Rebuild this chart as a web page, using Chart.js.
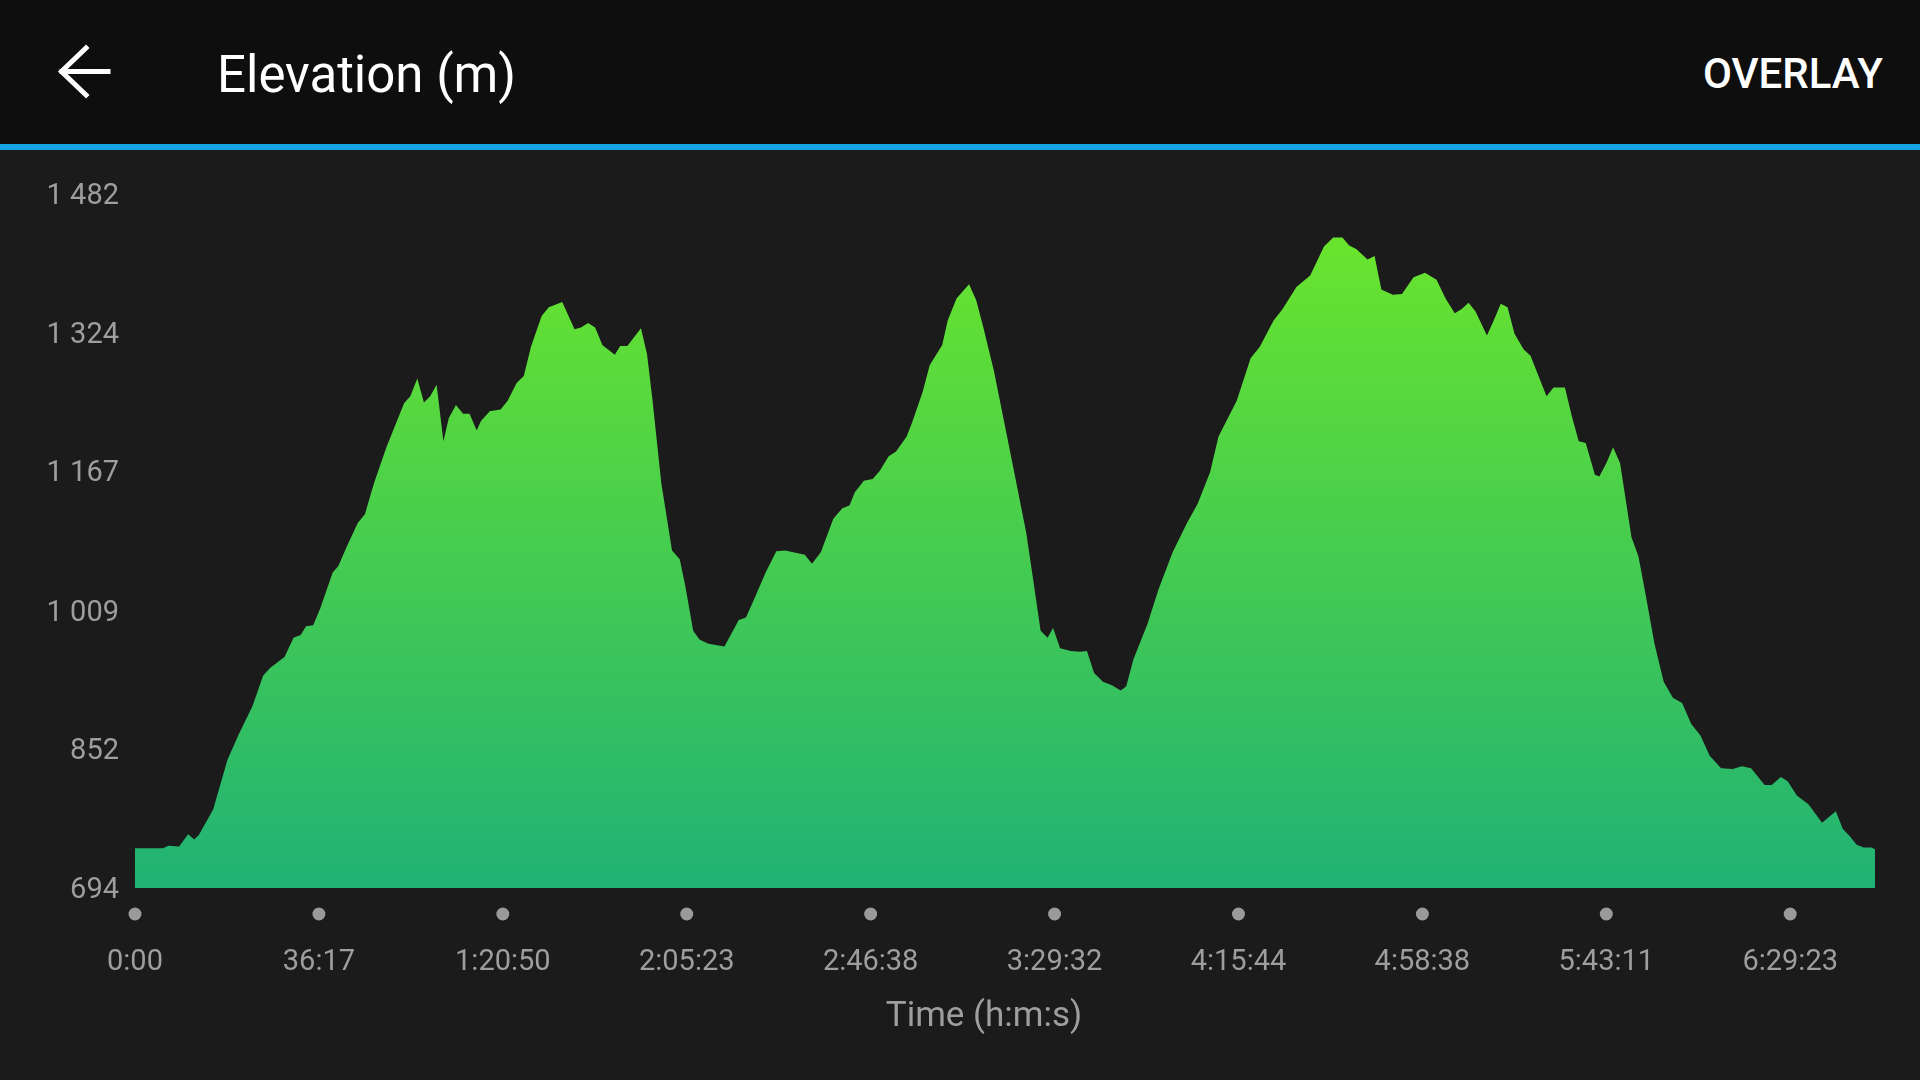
<!DOCTYPE html>
<html>
<head>
<meta charset="utf-8">
<script src="https://cdn.jsdelivr.net/npm/chart.js@4.4.1/dist/chart.umd.min.js"></script>
<style>
    html, body { margin: 0; padding: 0; }
    body { width: 1920px; height: 1080px; background: #1b1b1b; position: relative; overflow: hidden; font-family: Roboto, "Noto Sans", sans-serif; }
    #header { position: absolute; left: 0; top: 0; width: 1920px; height: 144px; background: #0e0e0e; }
    #bar { position: absolute; left: 0; top: 144px; width: 1920px; height: 6px; background: #16a4e6; }
    #back { position: absolute; left: 0; top: 0; }
    #title { position: absolute; left: 217px; top: 49px; font-size: 51px; line-height: 51px; color: #fff; white-space: nowrap; }
    #overlay { position: absolute; right: 37px; top: 53px; font-size: 42px; line-height: 42px; font-weight: 500; color: #fff; }
    #xTitle { position: absolute; left: 784px; width: 400px; top: 997px; text-align: center; font-size: 35px; line-height: 35px; color: #9e9e9e; }
    #chart { position: absolute; left: 0; top: 150px; }
</style>
</head>
<body>
<div id="header"></div>
<div id="bar"></div>
<svg id="back" width="140" height="144">
    <path d="M108 71.5 H62 M86 48 L61.5 71.5 L86 95" stroke="#fff" stroke-width="5" fill="none" stroke-linecap="square"/>
</svg>
<div id="title">Elevation (m)</div>
<div id="overlay">OVERLAY</div>
<canvas id="chart" width="1920" height="930"></canvas>
<div id="xTitle">Time (h:m:s)</div>

<script>
// ====== DATA ======
// x runs in tick intervals (one interval between two time labels)
const distance = [
    0, 0.153, 0.182, 0.240, 0.289, 0.322, 0.347, 0.425, 0.502, 0.561,
    0.638, 0.697, 0.736, 0.813, 0.862, 0.901, 0.930, 0.969, 1.007, 1.075,
    1.105, 1.153, 1.211, 1.250, 1.299, 1.367, 1.415, 1.463, 1.497, 1.535,
    1.571, 1.605, 1.640, 1.677, 1.706, 1.745, 1.784, 1.819, 1.858, 1.881,
    1.929, 1.988, 2.027, 2.075, 2.114, 2.153, 2.211, 2.250, 2.323, 2.390,
    2.425, 2.464, 2.502, 2.541, 2.609, 2.638, 2.677, 2.751, 2.784, 2.813,
    2.862, 2.920, 2.962, 2.992, 3.035, 3.069, 3.118, 3.205, 3.244, 3.283,
    3.322, 3.361, 3.429, 3.487, 3.535, 3.642, 3.681, 3.729, 3.797, 3.846,
    3.885, 3.914, 3.963, 4.011, 4.049, 4.098, 4.137, 4.195, 4.225, 4.283,
    4.321, 4.389, 4.419, 4.467, 4.535, 4.574, 4.613, 4.671, 4.720, 4.788,
    4.846, 4.885, 4.924, 4.962, 4.992, 5.030, 5.088, 5.137, 5.176, 5.215,
    5.263, 5.312, 5.360, 5.390, 5.428, 5.506, 5.564, 5.642, 5.720, 5.778,
    5.846, 5.891, 5.991, 6.066, 6.116, 6.191, 6.240, 6.315, 6.390, 6.465,
    6.515, 6.565, 6.602, 6.640, 6.702, 6.740, 6.777, 6.839, 6.889, 6.952,
    7.014, 7.077, 7.126, 7.176, 7.214, 7.251, 7.289, 7.351, 7.388, 7.426,
    7.463, 7.501, 7.551, 7.588, 7.675, 7.713, 7.775, 7.813, 7.850, 7.888,
    7.938, 7.962, 8.000, 8.037, 8.075, 8.137, 8.175, 8.212, 8.262, 8.312,
    8.362, 8.412, 8.462, 8.512, 8.562, 8.624, 8.687, 8.737, 8.787, 8.861,
    8.899, 8.949, 8.986, 9.036, 9.099, 9.173, 9.248, 9.286, 9.323, 9.361,
    9.399, 9.441, 9.461
];

const elevation = [
    739, 739, 742, 741, 755, 749, 754, 783, 839, 867,
    900, 935, 944, 956, 978, 981, 991, 992, 1011, 1052,
    1059, 1082, 1108, 1118, 1153, 1194, 1219, 1244, 1252, 1272,
    1245, 1252, 1265, 1201, 1227, 1242, 1232, 1232, 1213, 1224,
    1235, 1237, 1247, 1267, 1275, 1308, 1343, 1353, 1359, 1328,
    1330, 1335, 1330, 1310, 1299, 1309, 1309, 1329, 1300, 1249,
    1153, 1077, 1067, 1037, 986, 976, 971, 968, 983, 998,
    1001, 1019, 1052, 1076, 1077, 1072, 1062, 1075, 1113, 1125,
    1128, 1143, 1156, 1158, 1167, 1184, 1189, 1206, 1222, 1257,
    1287, 1310, 1338, 1363, 1379, 1361, 1330, 1280, 1229, 1158,
    1097, 1042, 986, 978, 989, 966, 963, 962, 963, 938,
    928, 924, 918, 923, 953, 994, 1032, 1075, 1108, 1130,
    1166, 1206, 1247, 1295, 1308, 1338, 1351, 1376, 1389, 1422,
    1432, 1432, 1423, 1419, 1407, 1411, 1373, 1367, 1368, 1387,
    1392, 1384, 1363, 1346, 1351, 1358, 1348, 1321, 1338, 1357,
    1353, 1323, 1305, 1298, 1252, 1262, 1262, 1229, 1201, 1199,
    1163, 1161, 1176, 1194, 1176, 1092, 1070, 1029, 971, 928,
    910, 904, 880, 867, 844, 830, 829, 832, 830, 811,
    811, 820, 815, 799, 789, 768, 781, 761, 753, 743,
    740, 740, 738
];

const xTickLabels = ['0:00', '36:17', '1:20:50', '2:05:23', '2:46:38', '3:29:32', '4:15:44', '4:58:38', '5:43:11', '6:29:23'];
const yTicks = [694, 852, 1009, 1167, 1324, 1482];

const xEnd = 9.461;

// ====== HELPERS ======
function fmtThousands(v) {
    return String(Math.round(v)).replace(/\B(?=(\d{3})+(?!\d))/g, ' ');
}

function greenFill(context) {
    const chart = context.chart;
    const area = chart.chartArea;
    if (!area) return '#3cc85a';
    const g = chart.ctx.createLinearGradient(0, area.bottom, 0, area.top);
    g.addColorStop(0, '#20b275');
    g.addColorStop(1, '#6ee828');
    return g;
}

// grey dots under every time label
const tickDots = {
    id: 'tickDots',
    afterDraw(chart) {
        const c = chart.ctx;
        const xs = chart.scales.x;
        c.save();
        c.fillStyle = '#9a9a9a';
        xs.ticks.forEach(t => {
            c.beginPath();
            c.arc(xs.getPixelForValue(t.value), chart.chartArea.bottom + 26, 6.5, 0, Math.PI * 2);
            c.fill();
        });
        c.restore();
    }
};

// ====== CHART ======
const chart = new Chart(document.getElementById('chart'), {
    type: 'line',
    data: {
        datasets: [{
            data: distance.map((d, i) => ({ x: d, y: elevation[i] })),
            fill: 'start',
            backgroundColor: greenFill,
            borderWidth: 0,
            pointRadius: 0,
            tension: 0
        }]
    },
    options: {
        responsive: false,
        animation: false,
        devicePixelRatio: 1,
        layout: { padding: { top: 43.5, right: 45, left: 0, bottom: 0 } },
        plugins: { legend: { display: false }, tooltip: { enabled: false } },
        scales: {
            x: {
                type: 'linear',
                min: 0,
                max: xEnd,
                grid: { display: false, drawTicks: false },
                border: { display: false },
                afterBuildTicks: s => { s.ticks = xTickLabels.map((_, i) => ({ value: i })); },
                afterFit: s => { s.height = 192; },
                ticks: {
                    autoSkip: false,
                    maxRotation: 0,
                    padding: 57,
                    color: '#9e9e9e',
                    font: { family: 'Roboto', size: 29 },
                    callback: (v, i) => xTickLabels[i]
                }
            },
            y: {
                min: yTicks[0],
                max: yTicks[yTicks.length - 1],
                grid: { display: false, drawTicks: false },
                border: { display: false },
                afterBuildTicks: s => { s.ticks = yTicks.map(v => ({ value: v })); },
                afterFit: s => { s.width = 135; },
                ticks: {
                    padding: 16,
                    labelOffset: 3,
                    color: '#9e9e9e',
                    font: { family: 'Roboto', size: 29 },
                    callback: v => fmtThousands(v)
                }
            }
        }
    },
    plugins: [tickDots]
});
</script>
</body>
</html>
